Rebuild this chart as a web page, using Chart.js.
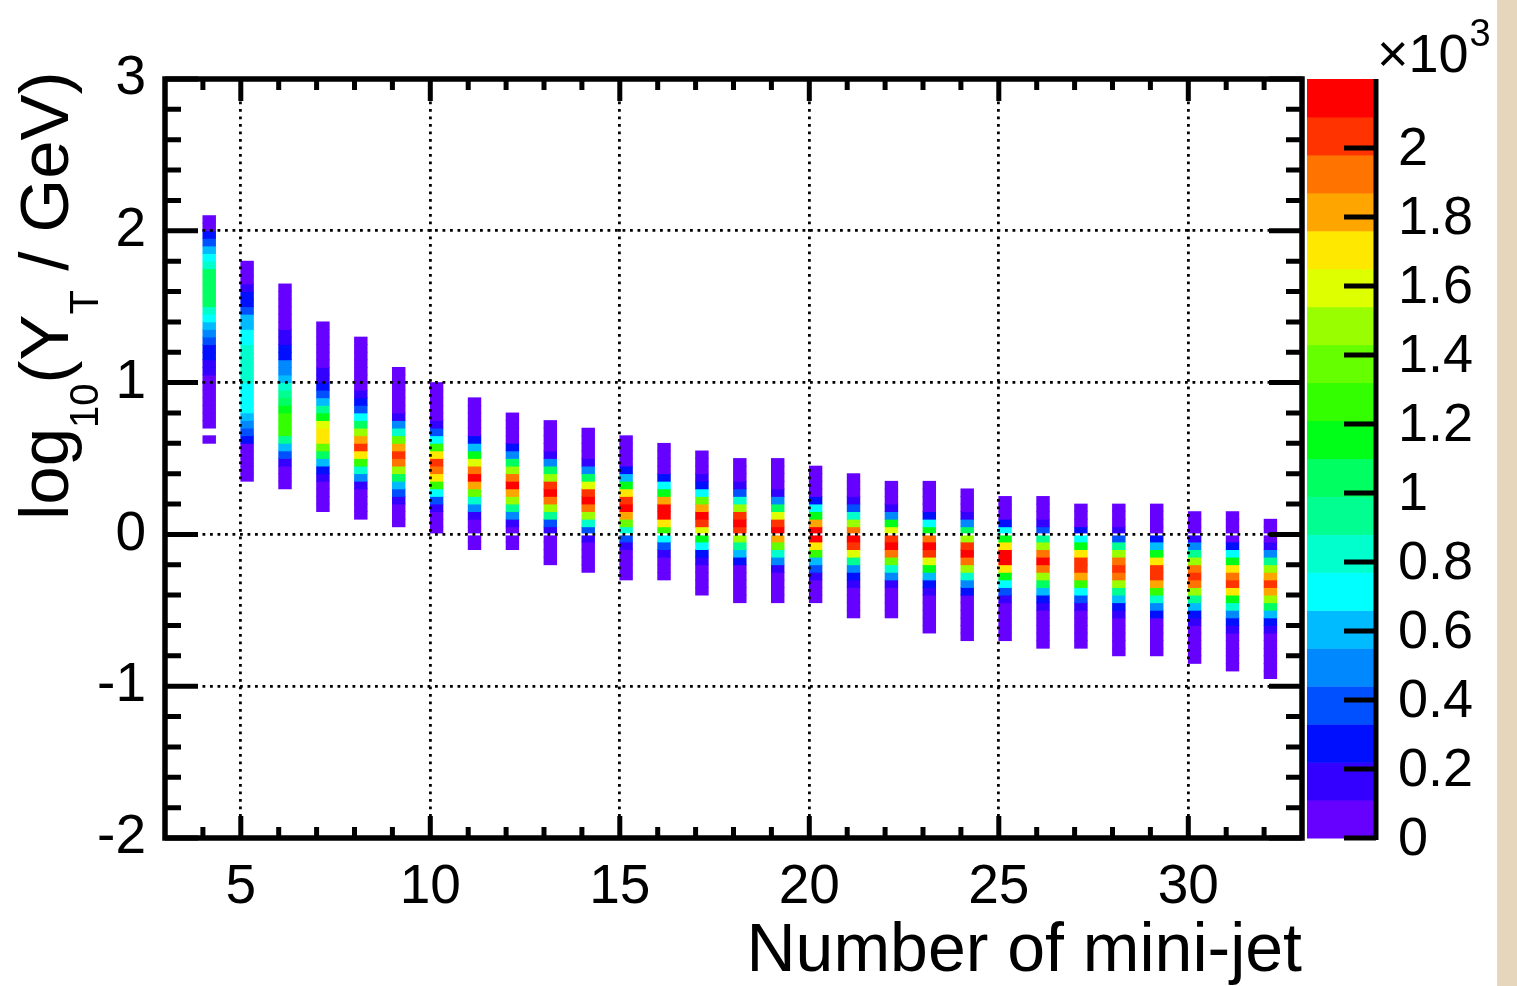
<!DOCTYPE html>
<html lang="en">
<head>
    <meta charset="UTF-8">
    <title>log10(YT / GeV) vs Number of mini-jet</title>
    <script src="https://cdn.jsdelivr.net/npm/chart.js"></script>
    <style>
        body {
            margin: 0;
            background-color: #fff;
            overflow: hidden;
        }
        #wrap {
            position: relative;
            width: 1517px;
            height: 986px;
        }
        #edge {
            position: absolute;
            left: 1497px;
            top: 0;
            width: 20px;
            height: 986px;
            background-color: #e6d7bc;
        }
        canvas {
            position: absolute;
            left: 0;
            top: 0;
        }
    </style>
</head>
<body>
    <div id="wrap">
        <div id="edge"></div>
        <canvas id="histChart" width="1517" height="986"></canvas>
    </div>

    <script>
        // number of mini-jets (one column per value)
        const nJet = [4, 5, 6, 7, 8, 9, 10, 11, 12, 13, 14, 15, 16, 17, 18,
                      19, 20, 21, 22, 23, 24, 25, 26, 27, 28, 29, 30, 31, 32];
        // lower edge of the first filled log10(YT) bin in each column
        const yStart = [0.60, 0.35, 0.30, 0.15, 0.10, 0.05, 0.00, -0.10, -0.10, -0.20, -0.25, -0.30, -0.30, -0.40, -0.45,
                        -0.45, -0.45, -0.55, -0.55, -0.65, -0.70, -0.70, -0.75, -0.75, -0.80, -0.80, -0.85, -0.90, -0.95];
        // entries per 0.05 bin, bottom to top (0 = empty bin)
        const counts = [
            [50, 0, 50, 50, 50, 50, 50, 50, 50, 160, 160, 270, 270, 380, 490, 600, 710, 820, 1040, 1040, 1040, 1040, 1040, 820, 710, 600, 380, 270, 50, 50],
            [50, 50, 50, 50, 50, 270, 380, 490, 600, 710, 710, 710, 710, 820, 820, 820, 820, 820, 710, 710, 600, 600, 380, 270, 270, 160, 50, 50, 50],
            [50, 50, 50, 160, 380, 600, 930, 1260, 1260, 1260, 1150, 1040, 930, 820, 600, 490, 490, 270, 270, 160, 160, 50, 50, 50, 50, 50, 50],
            [50, 50, 50, 50, 160, 270, 600, 1040, 1370, 1700, 1700, 1590, 1150, 930, 600, 380, 270, 160, 160, 50, 50, 50, 50, 50, 50],
            [50, 50, 50, 50, 160, 490, 820, 1260, 1700, 2030, 1810, 1480, 1040, 710, 380, 270, 160, 50, 50, 50, 50, 50, 50, 50],
            [50, 50, 50, 160, 380, 600, 1040, 1480, 1920, 2030, 1810, 1370, 820, 490, 160, 50, 50, 50, 50, 50, 50],
            [50, 50, 50, 160, 380, 710, 1260, 1700, 1920, 2030, 1700, 1260, 710, 380, 160, 50, 50, 50, 50, 50],
            [50, 50, 50, 50, 160, 490, 820, 1370, 1810, 2140, 1920, 1590, 1150, 600, 270, 50, 50, 50, 50, 50],
            [50, 50, 50, 160, 490, 930, 1480, 1810, 2140, 1920, 1480, 1040, 490, 270, 50, 50, 50, 50],
            [50, 50, 50, 50, 160, 380, 930, 1480, 1920, 2140, 2030, 1480, 1040, 490, 160, 50, 50, 50, 50],
            [50, 50, 50, 50, 160, 380, 820, 1480, 1920, 2140, 2030, 1590, 1040, 490, 160, 50, 50, 50, 50],
            [50, 50, 50, 50, 160, 380, 820, 1370, 1810, 2140, 2030, 1700, 1150, 600, 270, 50, 50, 50, 50],
            [50, 50, 50, 160, 380, 710, 1260, 1700, 2140, 2140, 1810, 1150, 710, 270, 50, 50, 50, 50],
            [50, 50, 50, 50, 160, 270, 710, 1150, 1590, 2030, 2140, 1810, 1370, 710, 270, 160, 50, 50, 50],
            [50, 50, 50, 50, 50, 270, 600, 930, 1480, 2030, 2140, 2030, 1480, 820, 380, 160, 50, 50, 50],
            [50, 50, 50, 50, 160, 490, 820, 1370, 1810, 2140, 2030, 1590, 1040, 490, 160, 50, 50, 50, 50],
            [50, 50, 50, 160, 380, 600, 1260, 1700, 2140, 2140, 1810, 1150, 710, 270, 50, 50, 50, 50],
            [50, 50, 50, 50, 160, 270, 490, 930, 1590, 2030, 2140, 1920, 1480, 820, 380, 160, 50, 50, 50],
            [50, 50, 50, 50, 160, 490, 820, 1370, 1920, 2140, 2030, 1590, 1150, 490, 160, 50, 50, 50],
            [50, 50, 50, 50, 50, 160, 270, 600, 1150, 1590, 2030, 2140, 1920, 1150, 710, 270, 50, 50, 50, 50],
            [50, 50, 50, 50, 50, 50, 270, 490, 820, 1480, 1920, 2140, 2030, 1480, 1040, 490, 160, 50, 50, 50],
            [50, 50, 50, 50, 50, 160, 380, 710, 1150, 1700, 2140, 2140, 1700, 1150, 710, 270, 50, 50, 50],
            [50, 50, 50, 50, 50, 160, 270, 600, 1040, 1480, 1920, 2140, 1920, 1480, 930, 380, 160, 50, 50, 50],
            [50, 50, 50, 50, 50, 160, 380, 710, 1260, 1810, 2030, 2030, 1700, 1150, 710, 270, 50, 50, 50],
            [50, 50, 50, 50, 50, 160, 270, 600, 930, 1480, 1920, 2030, 1920, 1480, 930, 380, 160, 50, 50, 50],
            [50, 50, 50, 50, 50, 270, 490, 820, 1260, 1810, 2030, 2030, 1700, 1150, 600, 270, 50, 50, 50, 50],
            [50, 50, 50, 50, 50, 160, 270, 600, 930, 1480, 1920, 2030, 1920, 1480, 930, 490, 160, 50, 50, 50],
            [50, 50, 50, 50, 50, 160, 270, 490, 820, 1150, 1700, 2030, 1920, 1700, 1150, 710, 270, 50, 50, 50, 50],
            [50, 50, 50, 50, 50, 50, 160, 270, 600, 1040, 1480, 1810, 2030, 1810, 1480, 930, 490, 160, 50, 50, 50]
        ];
        const xTickLabels = [5, 10, 15, 20, 25, 30];
        const yTickLabels = [-2, -1, 0, 1, 2, 3];
        const zTickValues = [0, 200, 400, 600, 800, 1000, 1200, 1400, 1600, 1800, 2000];
        const zTickLabels = ['0', '0.2', '0.4', '0.6', '0.8', '1', '1.2', '1.4', '1.6', '1.8', '2'];

        const xBin = 1 / 3;     // bin width in number of mini-jet
        const yBin = 0.05;      // bin width in log10(YT)
        const zMax = 2200;
        // ROOT rainbow palette, 20 contour levels
        const palette = ['#6600ff', '#3300ff', '#0010ff', '#0050ff', '#0088ff', '#00bbff', '#00ffff', '#00ffcc',
                         '#00ff90', '#00ff60', '#00ff18', '#33ff00', '#66ff00', '#99ff00', '#ddff00', '#ffe800',
                         '#ffa500', '#ff7300', '#ff3300', '#ff0000'];
        const font = '"Liberation Sans", Arial, Helvetica, sans-serif';

        function levelColor(c) {
            const lvl = Math.min(palette.length - 1, Math.floor(c / zMax * palette.length));
            return palette[lvl];
        }

        // one floating bar per filled cell
        const cells = [];
        const cellColors = [];
        nJet.forEach((n, i) => {
            counts[i].forEach((c, j) => {
                if (c <= 0) return;
                const lo = yStart[i] + j * yBin;
                cells.push({ x: n + xBin / 2, y: [lo, lo + yBin] });
                cellColors.push(levelColor(c));
            });
        });

        // frame, inside ticks, palette axis and the y title
        const decorations = {
            id: 'decorations',
            afterDraw(chart) {
                const { ctx, chartArea: a, scales } = chart;
                const sx = scales.x, sy = scales.y, sz = scales.z;
                ctx.save();
                ctx.strokeStyle = '#000';
                ctx.fillStyle = '#000';

                // inside tick marks
                ctx.lineWidth = 5;
                ctx.beginPath();
                for (let i = 0; i <= 25; i++) {
                    const y = sy.getPixelForValue(sy.min + i * 0.2);
                    const len = i % 5 === 0 ? 33 : 16;
                    ctx.moveTo(a.left, y); ctx.lineTo(a.left + len, y);
                    ctx.moveTo(a.right, y); ctx.lineTo(a.right - len, y);
                }
                for (let v = sx.min + 1; v < sx.max; v++) {
                    const x = sx.getPixelForValue(v);
                    const len = v % 5 === 0 ? 22 : 11;
                    ctx.moveTo(x, a.bottom); ctx.lineTo(x, a.bottom - len);
                    ctx.moveTo(x, a.top); ctx.lineTo(x, a.top + len);
                }
                ctx.stroke();

                // frame
                ctx.lineWidth = 5.5;
                ctx.strokeRect(a.left, a.top, a.right - a.left, a.bottom - a.top);

                // colour palette
                const pl = a.right + 5, pr = a.right + 72;
                palette.forEach((col, k) => {
                    const y0 = sz.getPixelForValue(k * zMax / palette.length);
                    const y1 = sz.getPixelForValue((k + 1) * zMax / palette.length);
                    ctx.fillStyle = col;
                    ctx.fillRect(pl, y1, pr - pl, y0 - y1 + 0.5);
                });
                ctx.fillStyle = '#000';
                ctx.lineWidth = 5;
                ctx.beginPath();
                ctx.moveTo(pr + 2, a.top); ctx.lineTo(pr + 2, a.bottom + 2);
                zTickValues.forEach(v => {
                    const y = sz.getPixelForValue(v);
                    ctx.moveTo(pr + 2, y); ctx.lineTo(pr - 30, y);
                });
                ctx.stroke();

                ctx.font = '54px ' + font;
                ctx.textAlign = 'left';
                ctx.textBaseline = 'middle';
                zTickValues.forEach((v, i) => {
                    ctx.fillText(zTickLabels[i], pr + 24, sz.getPixelForValue(v) + 2);
                });
                ctx.textBaseline = 'alphabetic';
                ctx.fillText('\u00d710', pr + 3, 72);
                const w = ctx.measureText('\u00d710').width;
                ctx.font = '38px ' + font;
                ctx.fillText('3', pr + 3 + w + 1, 46);

                // y title with subscripts
                ctx.translate(68, 520);
                ctx.rotate(-Math.PI / 2);
                const parts = [['log', 69, 0], ['10', 40, 30], ['(Y', 69, 0], ['T', 40, 30], [' / GeV)', 69, 0]];
                let pos = 0;
                parts.forEach(([t, size, dy]) => {
                    ctx.font = size + 'px ' + font;
                    ctx.fillText(t, pos, dy);
                    pos += ctx.measureText(t).width;
                });
                ctx.restore();
            }
        };

        const ctx = document.getElementById('histChart').getContext('2d');
        const histChart = new Chart(ctx, {
            type: 'bar',
            data: {
                datasets: [{
                    data: cells,
                    backgroundColor: cellColors,
                    borderWidth: 0,
                    inflateAmount: 0.4,
                    categoryPercentage: 1,
                    barPercentage: xBin
                }]
            },
            options: {
                responsive: false,
                animation: false,
                layout: { padding: { top: 79, right: 215, left: 0, bottom: 0 } },
                plugins: {
                    legend: { display: false },
                    tooltip: { enabled: false }
                },
                scales: {
                    x: {
                        type: 'linear',
                        min: 3,
                        max: 33,
                        offset: false,
                        grid: {
                            offset: false,
                            drawTicks: false,
                            z: 1,
                            lineWidth: 2.8,
                            color: c => xTickLabels.includes(c.tick.value) ? '#000' : 'rgba(0,0,0,0)'
                        },
                        border: { display: false, dash: [2.8, 4.7] },
                        ticks: {
                            stepSize: 1,
                            autoSkip: false,
                            maxRotation: 0,
                            padding: 17,
                            color: '#000',
                            font: { family: font, size: 55 },
                            callback: v => xTickLabels.includes(v) ? String(v) : ''
                        },
                        title: {
                            display: true,
                            text: 'Number of mini-jet',
                            align: 'end',
                            color: '#000',
                            font: { family: font, size: 68, lineHeight: 1.0 },
                            padding: { top: 0, bottom: 0 }
                        },
                        afterFit: s => { s.height = 148; }
                    },
                    y: {
                        type: 'linear',
                        min: -2,
                        max: 3,
                        grid: {
                            drawTicks: false,
                            z: 1,
                            lineWidth: 2.8,
                            color: c => (c.tick.value > -2 && c.tick.value < 3) ? '#000' : 'rgba(0,0,0,0)'
                        },
                        border: { display: false, dash: [2.8, 4.7] },
                        ticks: {
                            stepSize: 1,
                            autoSkip: false,
                            padding: 19,
                            color: '#000',
                            font: { family: font, size: 55 },
                            callback: v => yTickLabels.includes(v) ? String(v) : ''
                        },
                        afterFit: s => { s.width = 165; }
                    },
                    z: {
                        type: 'linear',
                        position: 'right',
                        display: false,
                        min: 0,
                        max: zMax
                    }
                }
            },
            plugins: [decorations]
        });
    </script>
</body>
</html>
